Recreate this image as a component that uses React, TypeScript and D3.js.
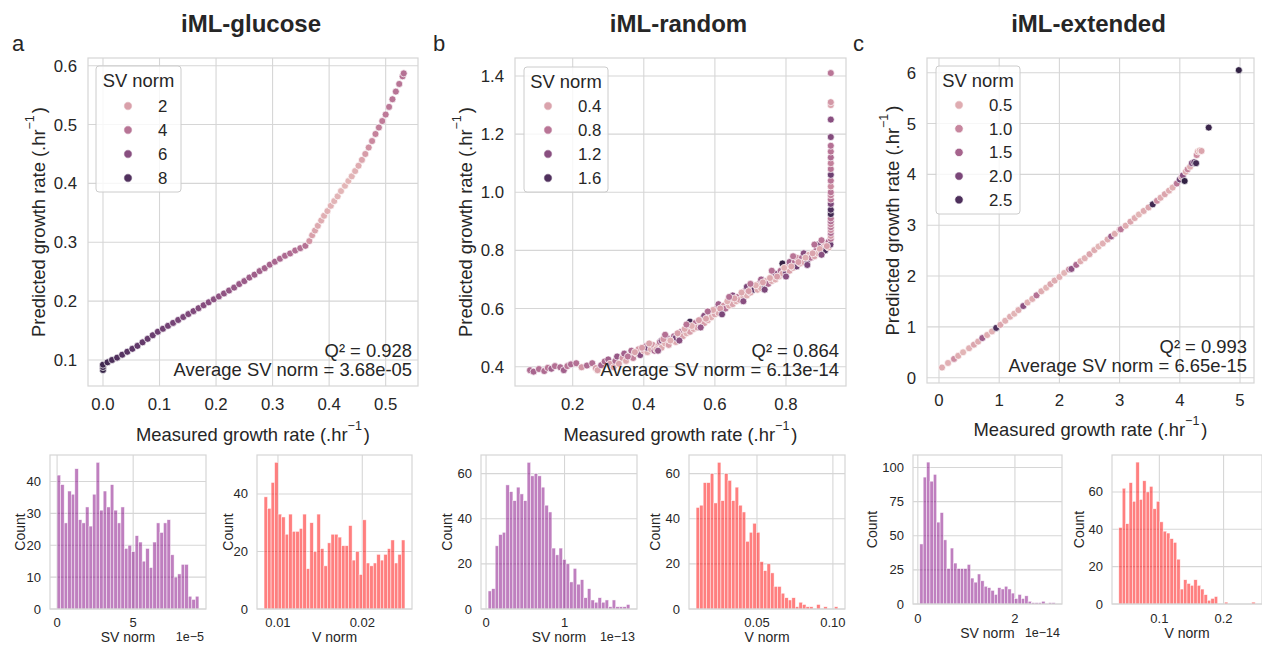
import React from "react";
import * as d3 from "d3";

// ---------------- DATA ----------------
// scatter points: [measured growth rate, predicted growth rate, SV norm (scaled)]
const glucosePoints: [number, number, number][] = [
  [0.0, 0.083, 9.0], [0.0, 0.088, 8.8], [0.0, 0.092, 8.6], [0.008, 0.096, 8.4], [0.016, 0.1, 8.2],
  [0.025, 0.104, 8.0], [0.034, 0.109, 7.8], [0.043, 0.114, 7.7], [0.052, 0.119, 7.6], [0.061, 0.124, 7.4],
  [0.07, 0.13, 7.3], [0.079, 0.136, 7.2], [0.088, 0.142, 7.1], [0.097, 0.148, 7.0], [0.106, 0.153, 6.9],
  [0.115, 0.158, 6.8], [0.124, 0.163, 6.7], [0.133, 0.168, 6.6], [0.142, 0.173, 6.5], [0.151, 0.178, 6.4],
  [0.16, 0.183, 6.3], [0.169, 0.188, 6.2], [0.178, 0.193, 6.1], [0.187, 0.198, 6.0], [0.196, 0.203, 5.9],
  [0.205, 0.208, 5.8], [0.214, 0.213, 5.7], [0.223, 0.218, 5.6], [0.232, 0.223, 5.5], [0.241, 0.229, 5.4],
  [0.25, 0.234, 5.3], [0.259, 0.24, 5.2], [0.268, 0.245, 5.1], [0.277, 0.251, 5.0], [0.286, 0.256, 4.9],
  [0.295, 0.262, 4.8], [0.304, 0.267, 4.7], [0.313, 0.272, 4.6], [0.322, 0.277, 4.5], [0.331, 0.281, 4.4],
  [0.34, 0.286, 4.3], [0.349, 0.29, 4.2], [0.358, 0.294, 4.1],
  [0.365, 0.302, 2.5], [0.37, 0.312, 2.0], [0.375, 0.32, 1.8], [0.38, 0.328, 1.6], [0.386, 0.337, 1.5],
  [0.391, 0.345, 1.4], [0.397, 0.353, 1.3], [0.403, 0.362, 1.3], [0.409, 0.37, 1.2], [0.415, 0.378, 1.2],
  [0.421, 0.387, 1.1], [0.428, 0.396, 1.1], [0.434, 0.404, 1.1], [0.44, 0.412, 1.2], [0.446, 0.421, 1.3],
  [0.452, 0.43, 1.5], [0.458, 0.44, 1.8], [0.464, 0.45, 2.2], [0.47, 0.461, 2.6], [0.476, 0.472, 3.0],
  [0.482, 0.484, 3.3], [0.488, 0.495, 3.5], [0.494, 0.506, 3.6], [0.5, 0.517, 3.7], [0.506, 0.53, 3.8],
  [0.512, 0.543, 3.9], [0.518, 0.556, 4.0], [0.524, 0.569, 4.0], [0.53, 0.582, 4.1], [0.532, 0.587, 4.1],
];

const randomPoints: [number, number, number][] = [
  [0.08, 0.388, 0.9], [0.09, 0.383, 0.95], [0.105, 0.392, 0.85], [0.12, 0.385, 0.9], [0.13, 0.396, 0.8],
  [0.14, 0.393, 1.0], [0.15, 0.402, 0.85], [0.165, 0.398, 0.9], [0.175, 0.388, 1.0], [0.185, 0.402, 0.8],
  [0.195, 0.408, 0.9], [0.21, 0.412, 0.85], [0.225, 0.398, 0.5], [0.24, 0.404, 0.9], [0.255, 0.412, 0.85],
  [0.265, 0.395, 0.45], [0.27, 0.388, 0.4], [0.28, 0.405, 0.95], [0.29, 0.418, 0.9], [0.3, 0.425, 1.0],
  [0.305, 0.41, 0.45], [0.315, 0.398, 0.4],
  [0.32, 0.42, 0.9], [0.325, 0.435, 1.1], [0.34, 0.43, 0.5], [0.345, 0.445, 1.0], [0.35, 0.42, 0.35],
  [0.36, 0.44, 0.4], [0.365, 0.455, 0.9], [0.37, 0.43, 0.7], [0.38, 0.445, 0.35], [0.385, 0.46, 0.5],
  [0.39, 0.44, 1.2], [0.4, 0.455, 0.4], [0.405, 0.47, 0.85], [0.41, 0.45, 0.3], [0.41, 0.465, 1.3],
  [0.42, 0.46, 0.35], [0.425, 0.475, 0.5], [0.43, 0.455, 0.9], [0.44, 0.47, 0.4], [0.445, 0.485, 0.8],
  [0.45, 0.465, 0.35], [0.45, 0.49, 1.2], [0.46, 0.48, 0.3], [0.465, 0.5, 1.0], [0.47, 0.475, 0.45],
  [0.48, 0.49, 0.4], [0.485, 0.505, 0.9], [0.49, 0.485, 0.35], [0.49, 0.5, 1.3], [0.5, 0.5, 0.35],
  [0.505, 0.52, 0.8], [0.51, 0.505, 0.4], [0.52, 0.515, 0.3], [0.525, 0.535, 0.9], [0.53, 0.52, 0.45],
  [0.53, 0.555, 1.7], [0.54, 0.53, 0.35], [0.545, 0.55, 0.85], [0.55, 0.535, 0.4], [0.56, 0.545, 0.3],
  [0.565, 0.565, 0.9], [0.57, 0.55, 0.45], [0.57, 0.575, 1.2], [0.58, 0.56, 0.35], [0.585, 0.58, 0.8],
  [0.59, 0.57, 0.3], [0.6, 0.58, 0.4], [0.605, 0.6, 0.9], [0.61, 0.585, 0.35], [0.61, 0.615, 1.0],
  [0.62, 0.595, 0.3], [0.625, 0.61, 0.5], [0.63, 0.6, 0.85], [0.64, 0.61, 0.35], [0.645, 0.63, 0.9],
  [0.65, 0.615, 0.4], [0.65, 0.645, 1.2], [0.66, 0.625, 0.3], [0.665, 0.64, 0.8], [0.67, 0.63, 0.45],
  [0.68, 0.64, 0.35], [0.685, 0.66, 0.9], [0.69, 0.645, 0.3], [0.69, 0.675, 1.3], [0.7, 0.655, 0.4],
  [0.705, 0.67, 0.85], [0.71, 0.665, 1.5], [0.72, 0.665, 0.35], [0.725, 0.685, 0.8], [0.73, 0.67, 0.3],
  [0.73, 0.7, 1.0], [0.74, 0.68, 1.6], [0.745, 0.695, 0.4], [0.75, 0.685, 0.9], [0.76, 0.695, 0.35],
  [0.765, 0.715, 0.85], [0.77, 0.7, 0.3], [0.77, 0.72, 1.2], [0.78, 0.71, 0.4], [0.785, 0.73, 0.9],
  [0.79, 0.755, 1.8], [0.79, 0.72, 0.35], [0.8, 0.725, 1.3], [0.805, 0.745, 0.8], [0.81, 0.73, 0.4],
  [0.81, 0.76, 1.0], [0.82, 0.74, 0.35], [0.825, 0.76, 0.85], [0.83, 0.745, 1.4], [0.83, 0.775, 0.5],
  [0.84, 0.755, 0.3], [0.845, 0.775, 0.9], [0.85, 0.76, 0.4], [0.85, 0.79, 1.2], [0.86, 0.765, 1.5],
  [0.865, 0.785, 0.35], [0.87, 0.775, 0.85], [0.88, 0.78, 0.4], [0.885, 0.8, 0.9], [0.89, 0.79, 0.3],
  [0.89, 0.82, 1.3], [0.9, 0.795, 0.45], [0.905, 0.81, 0.85], [0.91, 0.8, 1.6], [0.91, 0.825, 0.4],
  [0.92, 0.81, 0.35], [0.92, 0.83, 0.9], [0.925, 0.82, 1.4],
  [0.33, 0.41, 0.4], [0.355, 0.435, 0.8], [0.375, 0.45, 0.4], [0.395, 0.465, 0.45], [0.415, 0.48, 0.4],
  [0.435, 0.46, 0.3], [0.455, 0.495, 0.5], [0.475, 0.49, 0.3], [0.495, 0.515, 0.45], [0.515, 0.53, 0.35],
  [0.535, 0.54, 0.3], [0.555, 0.56, 0.45], [0.575, 0.565, 0.4], [0.595, 0.595, 0.35], [0.615, 0.6, 0.45],
  [0.635, 0.625, 0.3], [0.655, 0.635, 0.4], [0.675, 0.655, 0.35], [0.695, 0.66, 0.45], [0.715, 0.68, 0.3],
  [0.735, 0.69, 0.4], [0.755, 0.705, 0.35], [0.775, 0.71, 0.45], [0.795, 0.74, 0.3], [0.815, 0.745, 0.35],
  [0.835, 0.76, 0.45], [0.855, 0.775, 0.3], [0.875, 0.79, 0.4], [0.895, 0.805, 0.35], [0.915, 0.815, 0.45],
  [0.46, 0.51, 0.85], [0.52, 0.545, 0.8], [0.58, 0.59, 0.9], [0.64, 0.64, 0.85], [0.7, 0.685, 0.8],
  [0.76, 0.73, 0.85], [0.82, 0.78, 0.8], [0.88, 0.82, 0.85], [0.9, 0.835, 0.8],
  [0.44, 0.455, 1.1], [0.5, 0.49, 1.2], [0.56, 0.535, 1.1], [0.62, 0.58, 1.3], [0.68, 0.625, 1.2],
  [0.74, 0.665, 1.3], [0.8, 0.71, 1.2], [0.86, 0.75, 1.3], [0.9, 0.785, 1.2],
  [0.926, 0.84, 0.8], [0.926, 0.85, 0.5], [0.926, 0.86, 0.9], [0.926, 0.87, 0.6], [0.926, 0.88, 0.8],
  [0.926, 0.89, 0.7], [0.926, 0.9, 0.9], [0.926, 0.91, 0.8], [0.926, 0.925, 1.7], [0.926, 0.94, 1.6],
  [0.926, 0.96, 1.3], [0.926, 0.975, 0.8], [0.926, 0.99, 0.7], [0.926, 1.0, 0.8], [0.926, 1.02, 0.6],
  [0.926, 1.04, 0.8], [0.926, 1.06, 1.4], [0.926, 1.08, 0.8], [0.926, 1.1, 0.7], [0.926, 1.12, 0.9],
  [0.926, 1.14, 0.8], [0.926, 1.16, 0.85], [0.926, 1.19, 1.25], [0.926, 1.25, 1.2], [0.926, 1.3, 0.4],
  [0.926, 1.31, 0.5], [0.926, 1.41, 0.8],
];

const extendedPoints: [number, number, number][] = [
  [0.05, 0.2, 0.5], [0.15, 0.29, 0.45], [0.25, 0.37, 0.9], [0.32, 0.43, 0.5], [0.4, 0.5, 0.4],
  [0.5, 0.58, 0.45], [0.58, 0.65, 0.6], [0.65, 0.71, 0.5], [0.72, 0.78, 1.6], [0.8, 0.84, 0.5],
  [0.88, 0.91, 0.45], [0.95, 0.98, 2.5], [1.02, 1.04, 0.6], [1.1, 1.12, 0.45], [1.18, 1.2, 0.5],
  [1.25, 1.26, 0.4], [1.32, 1.33, 0.5], [1.4, 1.41, 1.8], [1.47, 1.48, 0.45], [1.55, 1.55, 0.5],
  [1.62, 1.62, 1.3], [1.7, 1.7, 0.5], [1.78, 1.77, 0.4], [1.85, 1.84, 0.6], [1.92, 1.91, 0.5],
  [2.0, 1.98, 0.45], [2.08, 2.06, 0.4], [2.16, 2.13, 0.9], [2.2, 2.14, 1.8], [2.28, 2.22, 1.4],
  [2.35, 2.29, 0.5], [2.42, 2.35, 0.45], [2.5, 2.43, 0.6], [2.58, 2.51, 0.5], [2.65, 2.58, 0.4],
  [2.72, 2.64, 0.45], [2.8, 2.72, 0.5], [2.86, 2.78, 1.6], [2.92, 2.83, 0.5], [3.0, 2.91, 0.45],
  [3.02, 2.92, 1.2], [3.1, 2.99, 0.5], [3.18, 3.07, 0.6], [3.25, 3.14, 0.5], [3.32, 3.21, 0.4],
  [3.4, 3.28, 0.5], [3.48, 3.35, 0.6], [3.55, 3.41, 2.6], [3.62, 3.48, 0.9], [3.68, 3.54, 0.5],
  [3.75, 3.61, 0.6], [3.82, 3.68, 0.5], [3.88, 3.74, 0.45], [3.95, 3.82, 1.2], [4.0, 3.9, 2.2],
  [4.03, 3.95, 0.9], [4.05, 3.98, 1.8], [4.08, 3.87, 2.8], [4.1, 4.05, 0.5], [4.13, 4.1, 1.0],
  [4.17, 4.15, 0.5], [4.2, 4.22, 1.9], [4.24, 4.24, 2.2], [4.27, 4.22, 2.6], [4.28, 4.38, 0.9],
  [4.3, 4.45, 0.5], [4.33, 4.47, 0.4], [4.36, 4.46, 0.6], [4.48, 4.92, 2.7], [4.98, 6.05, 2.8],
];

const glucoseHueDomain = [0.0, 9.3];
const randomHueDomain = [0.03, 1.85];
const extendedHueDomain = [0.05, 2.85];

const glucoseLegend = [2, 4, 6, 8];
const randomLegend = [0.4, 0.8, 1.2, 1.6];
const extendedLegend = [0.5, 1.0, 1.5, 2.0, 2.5];

const glucoseStats = ["Q² = 0.928", "Average SV norm = 3.68e-05"];
const randomStats = ["Q² = 0.864", "Average SV norm = 6.13e-14"];
const extendedStats = ["Q² = 0.993", "Average SV norm = 6.65e-15"];

const glucoseXTicks = [0, 0.1, 0.2, 0.3, 0.4, 0.5];
const glucoseYTicks = [0.1, 0.2, 0.3, 0.4, 0.5, 0.6];
const randomXTicks = [0.2, 0.4, 0.6, 0.8];
const randomYTicks = [0.4, 0.6, 0.8, 1.0, 1.2, 1.4];
const extendedXTicks = [0, 1, 2, 3, 4, 5];
const extendedYTicks = [0, 1, 2, 3, 4, 5, 6];

// histograms (40 bins each)
const glucoseSVCounts = [42, 39, 27, 37, 36, 44, 28, 27, 32, 26, 36, 46, 31, 37, 32, 39, 31, 27, 32, 19,
  20, 18, 23, 21, 15, 19, 13, 21, 27, 24, 27, 28, 17, 10, 11, 14, 14, 4, 3, 4];
const glucoseSVRange = [0.0, 9.32]; // x 1e-5
const glucoseVCounts = [39, 35, 44, 51, 33, 32, 26, 33, 27, 27, 28, 33, 14, 30, 20, 33, 21, 15, 23, 26,
  26, 25, 22, 22, 29, 17, 20, 12, 31, 16, 15, 16, 19, 17, 19, 21, 24, 16, 19, 24];
const glucoseVRange = [0.00835, 0.02506];
const randomSVCounts = [8, 9, 28, 33, 34, 55, 52, 48, 54, 51, 48, 65, 59, 60, 59, 54, 46, 43, 27, 24,
  27, 22, 20, 12, 18, 11, 13, 5, 9, 4, 3, 5, 3, 4, 1, 4, 1, 1, 1, 2];
const randomSVRange = [0.026, 1.833]; // x 1e-13
const randomVCounts = [45, 46, 56, 56, 60, 47, 65, 48, 60, 57, 48, 54, 46, 43, 30, 34, 38, 34, 21, 17,
  20, 16, 10, 10, 7, 5, 4, 5, 1, 3, 2, 1, 1, 0, 2, 0, 1, 0, 0, 1];
const randomVRange = [0.0099, 0.1033];
const extendedSVCounts = [44, 93, 104, 90, 95, 60, 67, 47, 26, 41, 30, 26, 26, 26, 29, 19, 16, 22, 17, 13,
  12, 10, 7, 12, 11, 13, 11, 8, 4, 7, 4, 6, 2, 1, 1, 1, 2, 0, 1, 1];
const extendedSVRange = [0.04, 2.83]; // x 1e-14
const extendedVCounts = [41, 62, 43, 65, 55, 76, 56, 66, 60, 63, 51, 55, 44, 39, 38, 35, 33, 24, 8, 13,
  11, 10, 13, 10, 8, 5, 2, 3, 4, 0, 0, 1, 0, 0, 0, 0, 0, 0, 0, 1];
const extendedVRange = [0.0369, 0.2492];

// ---------------- STYLE ----------------
const FONT = "'Liberation Sans', Arial, Helvetica, sans-serif";
const TXT = "#262626";
const GRID = "#d6d6d6";

function seabornCubehelix(t: number): string {
  const x = 0.85 + (0.15 - 0.85) * Math.max(0, Math.min(1, t));
  const phi = 2 * Math.PI * (0 / 3 + 0.4 * x);
  const a = (0.8 * x * (1 - x)) / 2;
  const c = Math.cos(phi), s = Math.sin(phi);
  const r = x + a * (-0.14861 * c + 1.78277 * s);
  const g = x + a * (-0.29227 * c - 0.90649 * s);
  const b = x + a * (1.97294 * c);
  const cl = (v: number) => Math.max(0, Math.min(255, Math.round(v * 255)));
  return d3.rgb(cl(r), cl(g), cl(b)).formatHex();
}

function Scatter(p: any) {
  const x = d3.scaleLinear().domain(p.xDomain).range([p.left, p.right]);
  const y = d3.scaleLinear().domain(p.yDomain).range([p.bottom, p.top]);
  const hue = d3.scaleLinear().domain(p.hueDomain).range([0, 1]);
  const cx = (p.left + p.right) / 2;
  const cy = (p.top + p.bottom) / 2;
  const lg = p.legend;
  return (
    <g fontFamily={FONT} fill={TXT}>
      <text x={cx - 2} y={32} textAnchor="middle" fontSize={24} fontWeight="bold">{p.title}</text>
      <text x={p.letterX} y={51} fontSize={22}>{p.letter}</text>
      {p.xTicks.map((t: number) => (
        <line key={"gx" + t} x1={x(t)} x2={x(t)} y1={p.top} y2={p.bottom} stroke={GRID} strokeWidth={1.1} />
      ))}
      {p.yTicks.map((t: number) => (
        <line key={"gy" + t} x1={p.left} x2={p.right} y1={y(t)} y2={y(t)} stroke={GRID} strokeWidth={1.1} />
      ))}
      <rect x={p.left} y={p.top} width={p.right - p.left} height={p.bottom - p.top} fill="none" stroke={GRID} strokeWidth={1.2} />
      {p.points.map((d: number[], i: number) => (
        <circle key={i} cx={x(d[0])} cy={y(d[1])} r={3.5} fill={seabornCubehelix(hue(d[2]))} stroke="#fff" strokeWidth={0.7} />
      ))}
      {/* legend */}
      <rect x={lg.x} y={lg.y} width={lg.w} height={lg.h} rx={3} fill="#fff" fillOpacity={0.8} stroke="#cccccc" strokeWidth={1} />
      <text x={lg.x + lg.w / 2} y={lg.y + 21} textAnchor="middle" fontSize={18.4}>SV norm</text>
      {p.legendVals.map((v: number, i: number) => (
        <g key={"l" + i}>
          <circle cx={lg.mx} cy={lg.y0 + i * lg.step} r={4.2} fill={seabornCubehelix(hue(v))} stroke="#fff" strokeWidth={0.7} />
          <text x={lg.mx + 30} y={lg.y0 + i * lg.step + 6} fontSize={16.8}>{p.legendFmt(v)}</text>
        </g>
      ))}
      {/* annotation */}
      <text x={p.annX} y={p.annY1} textAnchor="end" fontSize={18.4}>{p.stats[0]}</text>
      <text x={p.annX} y={p.annY2} textAnchor="end" fontSize={18.4}>{p.stats[1]}</text>
      {/* tick labels */}
      {p.xTicks.map((t: number) => (
        <text key={"tx" + t} x={x(t)} y={p.xTickY} textAnchor="middle" fontSize={16.8}>{p.fmtX(t)}</text>
      ))}
      {p.yTicks.map((t: number) => (
        <text key={"ty" + t} x={p.left - 11} y={y(t) + 6} textAnchor="end" fontSize={16.8}>{p.fmtY(t)}</text>
      ))}
      {/* axis labels */}
      <text x={cx} y={p.xLabelY} textAnchor="middle" fontSize={18.4}>
        Measured growth rate (.hr<tspan dy={-11} fontSize={12.5}>−1</tspan><tspan dy={11} dx={2}>)</tspan>
      </text>
      <text x={p.yLabelX} y={cy} textAnchor="middle" fontSize={18.4} transform={`rotate(-90, ${p.yLabelX}, ${cy})`}>
        Predicted growth rate (.hr<tspan dy={-11} fontSize={12.5}>−1</tspan><tspan dy={11} dx={2}>)</tspan>
      </text>
    </g>
  );
}

function Hist(p: any) {
  const [lo, hi] = p.range;
  const m = 0.05 * (hi - lo);
  const x = d3.scaleLinear().domain([lo - m, hi + m]).range([p.left, p.right]);
  const ymax = (d3.max(p.counts as number[]) as number) * 1.05;
  const y = d3.scaleLinear().domain([0, ymax]).range([p.bottom, p.top]);
  const n = p.counts.length;
  const w = (hi - lo) / n;
  return (
    <g fontFamily={FONT} fill={TXT}>
      {p.xTicks.map((t: number) => (
        <line key={"gx" + t} x1={x(t)} x2={x(t)} y1={p.top} y2={p.bottom} stroke={GRID} strokeWidth={1.1} />
      ))}
      {p.yTicks.map((t: number) => (
        <line key={"gy" + t} x1={p.left} x2={p.right} y1={y(t)} y2={y(t)} stroke={GRID} strokeWidth={1.1} />
      ))}
      {p.counts.map((c: number, i: number) =>
        c > 0 ? (
          <rect key={i} x={x(lo + i * w)} y={y(c)} width={x(lo + (i + 1) * w) - x(lo + i * w)} height={y(0) - y(c)}
            fill={p.color} fillOpacity={0.5} stroke="#fff" strokeWidth={0.6} strokeOpacity={0.8} />
        ) : null
      )}
      <rect x={p.left} y={p.top} width={p.right - p.left} height={p.bottom - p.top} fill="none" stroke={GRID} strokeWidth={1.2} />
      {p.xTicks.map((t: number) => (
        <text key={"tx" + t} x={x(t)} y={p.tickY} textAnchor="middle" fontSize={13}>{p.fmtX(t)}</text>
      ))}
      {p.yTicks.map((t: number) => (
        <text key={"ty" + t} x={p.left - 9} y={y(t) + 4.5} textAnchor="end" fontSize={13}>{t}</text>
      ))}
      <text x={(p.left + p.right) / 2} y={p.labelY} textAnchor="middle" fontSize={14}>{p.xLabel}</text>
      {p.offset ? (
        <text x={p.right - 2} y={p.labelY - 1} textAnchor="end" fontSize={12.5}>{p.offset}</text>
      ) : null}
      <text x={p.countX} y={(p.top + p.bottom) / 2} textAnchor="middle" fontSize={14}
        transform={`rotate(-90, ${p.countX}, ${(p.top + p.bottom) / 2})`}>Count</text>
    </g>
  );
}

const f1 = d3.format(".1f");
const f2 = d3.format(".2f");
const fi = d3.format("d");

export default function App() {
  return (
    <div style={{ position: "absolute", left: 0, top: 0 }}>
      <svg width={1262} height={645} style={{ display: "block", background: "#fff" }}>
        <Scatter title="iML-glucose" letter="a" letterX={12}
          left={88} right={418} top={58} bottom={386}
          xDomain={[-0.0265, 0.5572]} yDomain={[0.0558, 0.6131]}
          xTicks={glucoseXTicks} yTicks={glucoseYTicks} fmtX={f1} fmtY={f1}
          points={glucosePoints} hueDomain={glucoseHueDomain}
          legendVals={glucoseLegend} legendFmt={fi}
          legend={{ x: 96, y: 66, w: 85, h: 126, mx: 128, y0: 106, step: 24 }}
          stats={glucoseStats} annX={412} annY1={357} annY2={376}
          xTickY={410} xLabelY={441} yLabelX={45} />
        <Scatter title="iML-random" letter="b" letterX={433}
          left={515} right={846} top={58} bottom={386}
          xDomain={[0.0377, 0.9688]} yDomain={[0.3336, 1.4619]}
          xTicks={randomXTicks} yTicks={randomYTicks} fmtX={f1} fmtY={f1}
          points={randomPoints} hueDomain={randomHueDomain}
          legendVals={randomLegend} legendFmt={f1}
          legend={{ x: 524, y: 67, w: 84, h: 125, mx: 548, y0: 106, step: 24 }}
          stats={randomStats} annX={839} annY1={357} annY2={376}
          xTickY={410} xLabelY={441} yLabelX={472} />
        <Scatter title="iML-extended" letter="c" letterX={853}
          left={927} right={1254} top={58} bottom={383}
          xDomain={[-0.199, 5.232]} yDomain={[-0.104, 6.289]}
          xTicks={extendedXTicks} yTicks={extendedYTicks} fmtX={fi} fmtY={fi}
          points={extendedPoints} hueDomain={extendedHueDomain}
          legendVals={extendedLegend} legendFmt={f1}
          legend={{ x: 936, y: 66, w: 84, h: 148, mx: 959, y0: 105, step: 23.7 }}
          stats={extendedStats} annX={1247} annY1={353} annY2={372}
          xTickY={406} xLabelY={436} yLabelX={899} />

        <Hist left={50} right={206} top={455} bottom={609} counts={glucoseSVCounts} range={glucoseSVRange}
          color="purple" xTicks={[0, 5]} yTicks={[0, 10, 20, 30, 40]} fmtX={fi} tickY={627}
          xLabel="SV norm" offset="1e−5" labelY={642} countX={25} />
        <Hist left={257} right={412} top={455} bottom={609} counts={glucoseVCounts} range={glucoseVRange}
          color="red" xTicks={[0.01, 0.02]} yTicks={[0, 20, 40]} fmtX={f2} tickY={627}
          xLabel="V norm" labelY={642} countX={233} />
        <Hist left={481} right={637} top={455} bottom={609} counts={randomSVCounts} range={randomSVRange}
          color="purple" xTicks={[0, 1]} yTicks={[0, 20, 40, 60]} fmtX={fi} tickY={627}
          xLabel="SV norm" offset="1e−13" labelY={642} countX={452} />
        <Hist left={689} right={845} top={455} bottom={609} counts={randomVCounts} range={randomVRange}
          color="red" xTicks={[0.05, 0.1]} yTicks={[0, 20, 40, 60]} fmtX={f2} tickY={627}
          xLabel="V norm" labelY={642} countX={660} />
        <Hist left={913} right={1062} top={455} bottom={604} counts={extendedSVCounts} range={extendedSVRange}
          color="purple" xTicks={[0, 2]} yTicks={[0, 25, 50, 75, 100]} fmtX={fi} tickY={623}
          xLabel="SV norm" offset="1e−14" labelY={638} countX={877} />
        <Hist left={1112} right={1262} top={455} bottom={604} counts={extendedVCounts} range={extendedVRange}
          color="red" xTicks={[0.1, 0.2]} yTicks={[0, 20, 40, 60]} fmtX={f1} tickY={623}
          xLabel="V norm" labelY={638} countX={1084} />
      </svg>
    </div>
  );
}
